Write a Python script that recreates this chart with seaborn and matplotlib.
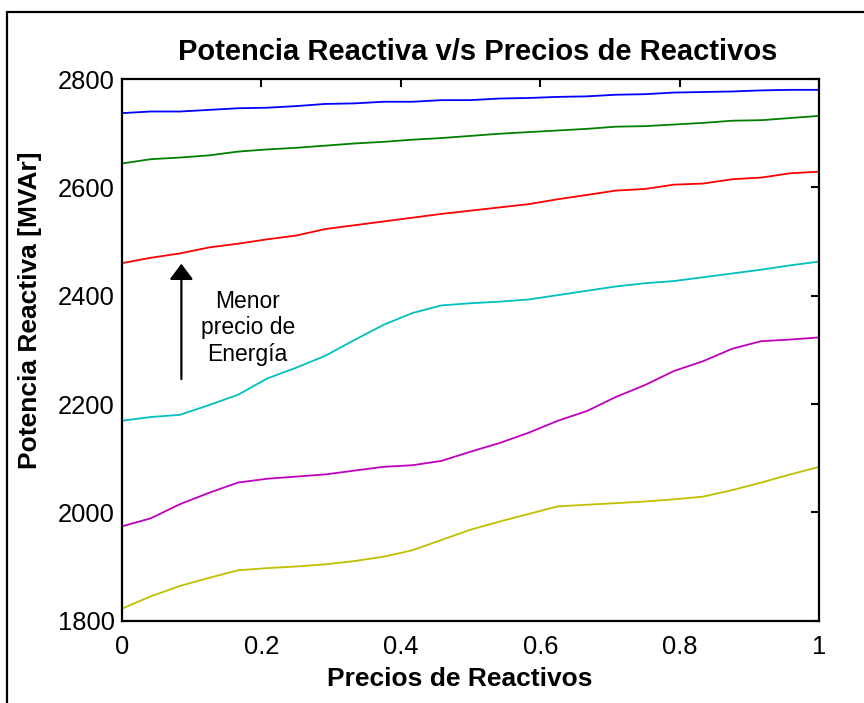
import pandas as pd
import matplotlib
matplotlib.use("Agg")
import matplotlib.pyplot as plt
import seaborn as sns
from matplotlib.lines import Line2D

# =============================================================================
# DATA
# =============================================================================

precios = [0, 0.0417, 0.0833, 0.125, 0.1667, 0.2083, 0.25, 0.2917, 0.3333,
           0.375, 0.4167, 0.4583, 0.5, 0.5417, 0.5833, 0.625, 0.6667, 0.7083,
           0.75, 0.7917, 0.8333, 0.875, 0.9167, 0.9583, 1.0]

q_azul = [2737, 2740, 2740, 2743, 2746, 2747, 2750, 2754, 2755, 2758, 2758,
          2761, 2761, 2764, 2765, 2767, 2768, 2771, 2772, 2775, 2776, 2777,
          2779, 2780, 2780]
q_verde = [2644, 2652, 2655, 2659, 2666, 2670, 2673, 2677, 2681, 2684, 2688,
           2691, 2695, 2699, 2702, 2705, 2708, 2712, 2713, 2716, 2719, 2723,
           2724, 2728, 2732]
q_rojo = [2460, 2470, 2478, 2489, 2496, 2504, 2511, 2523, 2530, 2537, 2544,
          2551, 2557, 2563, 2569, 2578, 2586, 2594, 2597, 2605, 2607, 2615,
          2618, 2626, 2629]
q_cian = [2169, 2176, 2180, 2198, 2217, 2247, 2267, 2289, 2318, 2346, 2368,
          2382, 2386, 2389, 2393, 2401, 2409, 2417, 2423, 2427, 2434, 2441,
          2448, 2456, 2463]
q_magenta = [1974, 1989, 2015, 2036, 2055, 2062, 2066, 2070, 2077, 2084, 2087,
             2095, 2112, 2128, 2147, 2169, 2187, 2213, 2235, 2261, 2279, 2302,
             2316, 2319, 2323]
q_amarillo = [1822, 1845, 1864, 1879, 1893, 1897, 1900, 1904, 1910, 1918, 1930,
              1949, 1968, 1983, 1997, 2011, 2014, 2017, 2020, 2024, 2029, 2041,
              2055, 2070, 2084]

series_names = ["azul", "verde", "rojo", "cian", "magenta", "amarillo"]
series_values = [q_azul, q_verde, q_rojo, q_cian, q_magenta, q_amarillo]
series_colors = ["#0000ff", "#008000", "#ff0000", "#00bfbf", "#bf00bf", "#bfbf00"]

x_ticks = [0, 0.2, 0.4, 0.6, 0.8, 1.0]
x_tick_labels = ["0", "0.2", "0.4", "0.6", "0.8", "1"]
y_ticks = [1800, 2000, 2200, 2400, 2600, 2800]

# long-form table for seaborn
df = pd.concat([
    pd.DataFrame({"precio": precios, "q": vals, "serie": name})
    for name, vals in zip(series_names, series_values)
], ignore_index=True)

# =============================================================================
# STYLE
# =============================================================================

sns.set_style("white")
plt.rcParams["font.family"] = ["Liberation Sans", "DejaVu Sans"]
plt.rcParams["text.color"] = "black"
plt.rcParams["axes.labelcolor"] = "black"
plt.rcParams["xtick.color"] = "black"
plt.rcParams["ytick.color"] = "black"

fig = plt.figure(figsize=(8.64, 7.03), dpi=100)
ax = fig.add_axes([0.1409, 0.1171, 0.8074, 0.7705])

sns.lineplot(
    data=df,
    x="precio",
    y="q",
    hue="serie",
    hue_order=series_names,
    palette=series_colors,
    linewidth=1.3,
    legend=False,
    ax=ax
)

ax.set_xlim(0, 1)
ax.set_ylim(1800, 2800)
ax.set_xticks(x_ticks)
ax.set_xticklabels(x_tick_labels)
ax.set_yticks(y_ticks)

ax.tick_params(direction="in", length=6, width=1.5, labelsize=18.4,
               top=True, right=True, colors="black")
ax.tick_params(axis="x", pad=10)
ax.tick_params(axis="y", pad=5)

for spine in ax.spines.values():
    spine.set_linewidth(1.6)
    spine.set_color("black")

ax.set_title("Potencia Reactiva v/s Precios de Reactivos",
             fontsize=21, fontweight="bold", pad=14, color="black", x=0.51)
ax.set_xlabel("Precios de Reactivos", fontsize=19, fontweight="bold")
ax.set_ylabel("Potencia Reactiva [MVAr]", fontsize=19, fontweight="bold")
ax.xaxis.set_label_coords(0.484, -0.085)
ax.yaxis.set_label_coords(-0.115, 0.573)

# Arrow + annotation
ax.annotate(
    "",
    xy=(0.0855, 2459),
    xytext=(0.0855, 2246),
    arrowprops=dict(arrowstyle="-|>,head_length=0.4,head_width=0.3",
                    mutation_scale=24, lw=1.6, color="black",
                    shrinkA=0, shrinkB=0)
)
ax.text(0.1805, 2341, "Menor\nprecio de\nEnergía", fontsize=16.5,
        ha="center", va="center", linespacing=1.2, color="black")

# Figure frame (only top and left edges visible in the crop)
fig.add_artist(Line2D([7 / 864, 1.0], [1 - 12 / 703, 1 - 12 / 703],
                      transform=fig.transFigure, color="black", lw=1.6))
fig.add_artist(Line2D([7 / 864, 7 / 864], [0.0, 1 - 12 / 703],
                      transform=fig.transFigure, color="black", lw=1.6))

fig.savefig("out.png", dpi=100)
